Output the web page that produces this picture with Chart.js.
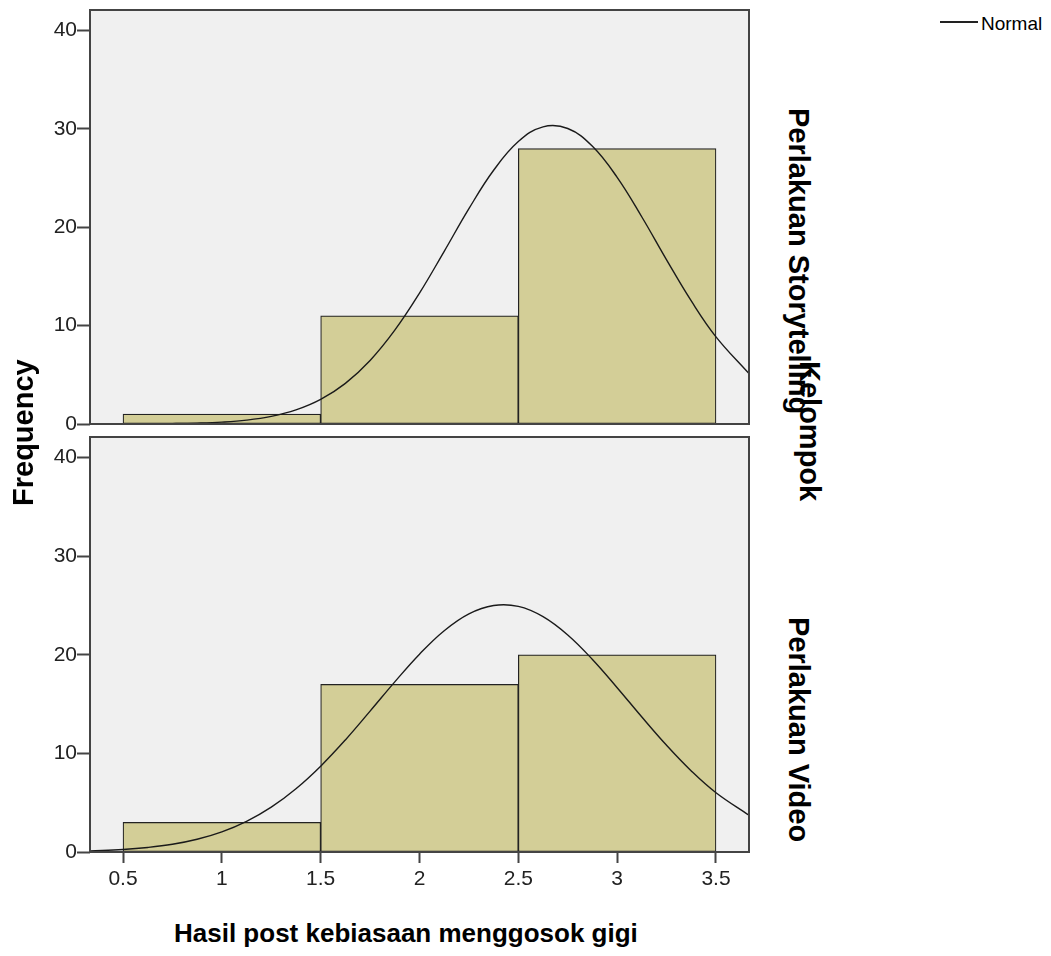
<!DOCTYPE html>
<html lang="id">
<head>
  <meta charset="UTF-8" />
  <title>Hasil post kebiasaan menggosok gigi</title>
  <script src="https://cdn.jsdelivr.net/npm/chart.js"></script>
  <style>
    body {
      margin: 0;
      width: 1051px;
      height: 956px;
      position: relative;
      overflow: hidden;
      background: #fff;
      font-family: "Liberation Sans", Arial, sans-serif;
      color: #000;
    }

    canvas {
      position: absolute;
      left: 0;
    }

    #topPanel { top: -10px; }
    #bottomPanel { top: 417px; }

    .label {
      position: absolute;
      white-space: nowrap;
      line-height: 1;
      font-weight: bold;
      transform-origin: 0 0;
    }

    .cw { font-size: 29px; transform: rotate(90deg); }
    .ccw { font-size: 29px; transform: rotate(-90deg); }

    #xTitle { left: 174px; top: 920px; font-size: 26px; }

    .legend-line {
      position: absolute;
      left: 940px;
      top: 21px;
      width: 38px;
      height: 1.5px;
      background: #222;
    }
    .legend-text {
      position: absolute;
      left: 981px;
      top: 14px;
      font-size: 19px;
      line-height: 1;
    }
  </style>
</head>
<body>
  <canvas id="topPanel" width="760" height="454"></canvas>
  <canvas id="bottomPanel" width="760" height="495"></canvas>

  <div class="label ccw" style="left: 9px; top: 506px;">Frequency</div>
  <div class="label cw" style="left: 813px; top: 108px;">Perlakuan Storytelling</div>
  <div class="label cw" style="left: 824px; top: 361px;">Kelompok</div>
  <div class="label cw" style="left: 813px; top: 617px;">Perlakuan Video</div>
  <div id="xTitle" class="label">Hasil post kebiasaan menggosok gigi</div>

  <div class="legend-line"></div>
  <div class="legend-text">Normal</div>

  <script>
    // histogram bins (score values) and counts per group
    const binCenters = [1, 2, 3];
    const storytellingCounts = [1, 11, 28];
    const videoCounts = [3, 17, 20];

    // normal curves
    const curveX = [0.333, 0.5, 0.625, 0.75, 0.875, 1, 1.125, 1.25, 1.375, 1.5, 1.625, 1.75, 1.875, 2,
                    2.125, 2.25, 2.375, 2.5, 2.625, 2.75, 2.875, 3, 3.125, 3.25, 3.375, 3.5, 3.667];
    const storytellingCurve = [0, 0.01, 0.015, 0.04, 0.09, 0.19, 0.39, 0.77, 1.43, 2.5, 4.13, 6.46, 9.54, 13.31,
                               17.56, 21.9, 25.8, 28.72, 30.22, 30.05, 28.24, 25.08, 21.05, 16.69, 12.51, 8.86, 5.12];
    const videoCurve = [0.11, 0.26, 0.46, 0.78, 1.29, 2.04, 3.11, 4.55, 6.42, 8.71, 11.37, 14.29, 17.26, 20.07,
                        22.45, 24.16, 25.01, 24.92, 23.88, 22.02, 19.53, 16.67, 13.69, 10.82, 8.22, 6.01, 3.73];

    const xTickValues = [0.5, 1, 1.5, 2, 2.5, 3, 3.5];
    const yTickValues = [0, 10, 20, 30, 40];

    const X_MIN = 0.333, X_MAX = 3.667, Y_MAX = 42.1;

    Chart.defaults.font.family = '"Liberation Sans", Arial, sans-serif';
    Chart.defaults.font.size = 21;
    Chart.defaults.color = '#222';

    // grey plot background and frame like SPSS panels
    const panelFrame = {
      id: 'panelFrame',
      beforeDraw(chart) {
        const { ctx, chartArea: a } = chart;
        ctx.save();
        ctx.fillStyle = '#f0f0f0';
        ctx.fillRect(a.left, a.top, a.width, a.height);
        ctx.restore();
      },
      afterDraw(chart) {
        const { ctx, chartArea: a } = chart;
        ctx.save();
        ctx.strokeStyle = '#444';
        ctx.lineWidth = 2;
        ctx.strokeRect(a.left, a.top, a.width, a.height);
        ctx.restore();
      }
    };

    function makePanel(id, counts, curveY, showX) {
      return new Chart(document.getElementById(id), {
        type: 'bar',
        data: {
          datasets: [
            {
              type: 'line',
              data: curveX.map((x, i) => ({ x, y: curveY[i] })),
              borderColor: '#1a1a1a',
              borderWidth: 1.4,
              pointRadius: 0,
              fill: false,
              tension: 0.4,
              order: 1
            },
            {
              type: 'bar',
              data: binCenters.map((x, i) => ({ x, y: counts[i] })),
              backgroundColor: '#d3ce97',
              borderColor: '#222',
              borderWidth: 1.2,
              borderSkipped: false,
              barThickness: 'flex',
              barPercentage: 1,
              categoryPercentage: 1,
              order: 2
            }
          ]
        },
        options: {
          responsive: false,
          animation: false,
          layout: { padding: { top: 20, right: 11, bottom: showX ? 0 : 20, left: 0 } },
          plugins: { legend: { display: false }, tooltip: { enabled: false } },
          scales: {
            x: {
              type: 'linear',
              min: X_MIN,
              max: X_MAX,
              offset: false,
              display: showX,
              afterBuildTicks: s => { s.ticks = xTickValues.map(v => ({ value: v })); },
              afterFit: s => {
                if (showX) s.height = 60;
                s.paddingLeft = 0;
                s.paddingRight = 0;
              },
              grid: { drawOnChartArea: false, tickLength: 11, tickColor: '#444', tickWidth: 2, offset: false },
              border: { display: false },
              ticks: { padding: 4, maxRotation: 0, autoSkip: false, callback: v => String(v) }
            },
            y: {
              min: 0,
              max: Y_MAX,
              afterBuildTicks: s => { s.ticks = yTickValues.map(v => ({ value: v })); },
              afterFit: s => { s.width = 90; s.paddingTop = 0; s.paddingBottom = 0; },
              grid: { drawOnChartArea: false, tickLength: 13, tickColor: '#444', tickWidth: 2 },
              border: { display: false },
              ticks: { padding: 0, callback: v => String(v) }
            }
          }
        },
        plugins: [panelFrame]
      });
    }

    makePanel('topPanel', storytellingCounts, storytellingCurve, false);
    makePanel('bottomPanel', videoCounts, videoCurve, true);
  </script>
</body>
</html>
